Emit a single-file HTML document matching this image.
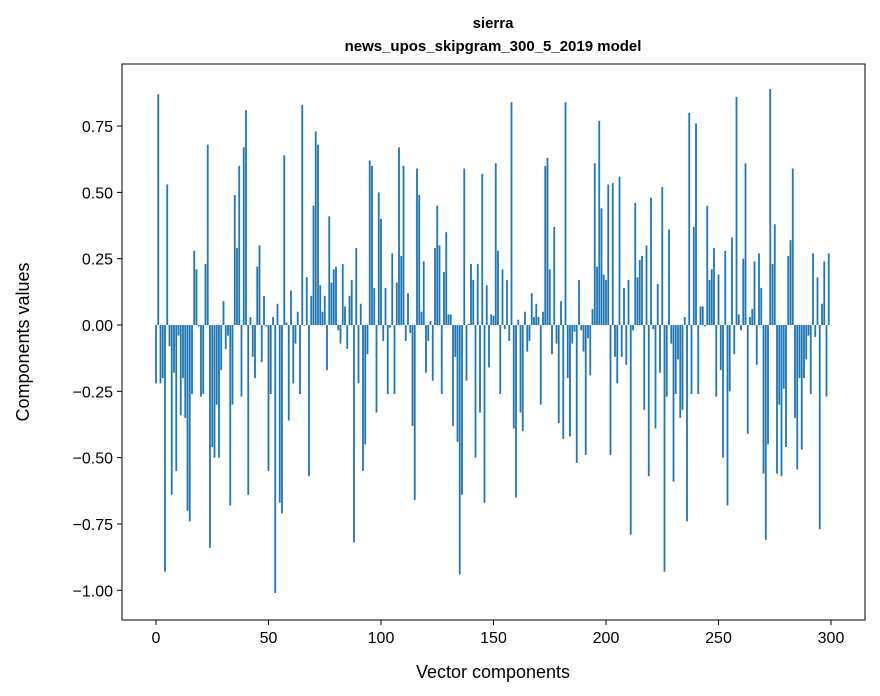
<!DOCTYPE html>
<html><head><meta charset="utf-8"><style>
html,body{margin:0;padding:0;background:#fff;}
svg{display:block;font-family:"Liberation Sans","DejaVu Sans",sans-serif;}
</style></head><body>
<svg id="chart" width="880" height="696" viewBox="0 0 880 696" xmlns="http://www.w3.org/2000/svg">
<rect width="880" height="696" fill="#fff"/>
<text x="493" y="28" text-anchor="middle" font-size="15" font-weight="bold">sierra</text>
<text x="493" y="51" text-anchor="middle" font-size="15" font-weight="bold">news_upos_skipgram_300_5_2019 model</text>
<g id="bars"></g>
<g id="axes"></g>
<rect x="122" y="64" width="743" height="556" fill="none" stroke="#000" stroke-width="1"/>
<text x="493" y="678" text-anchor="middle" font-size="18">Vector components</text>
<text transform="translate(29,342) rotate(-90)" text-anchor="middle" font-size="18">Components values</text>
</svg>
<script>
const values = [
-0.22,0.87,-0.22,-0.20,-0.93,0.53,-0.08,-0.64,-0.18,-0.55,
-0.04,-0.34,-0.20,-0.35,-0.70,-0.74,-0.26,0.28,0.21,-0.005,
-0.27,-0.26,0.23,0.68,-0.84,-0.46,-0.50,-0.30,-0.50,-0.17,
0.09,-0.09,-0.04,-0.68,-0.30,0.49,0.29,0.60,-0.27,0.67,
0.81,-0.64,0.03,-0.12,-0.20,0.22,0.30,-0.14,0.11,-0.005,
-0.55,-0.26,0.03,-1.01,0.08,-0.67,-0.71,0.64,0.01,-0.36,
0.13,-0.22,-0.07,0.05,-0.26,0.83,-0.003,0.18,-0.57,0.11,
0.45,0.73,0.68,0.15,0.05,0.11,-0.17,0.41,0.16,0.21,
0.22,-0.02,-0.07,0.23,0.07,-0.09,0.11,0.17,-0.82,0.29,
-0.22,0.08,-0.55,-0.45,-0.11,0.62,0.60,0.14,-0.33,0.50,
0.40,-0.06,0.14,-0.26,-0.01,0.27,-0.26,0.16,0.67,0.26,
0.60,-0.06,0.12,-0.03,-0.38,-0.66,0.59,0.49,0.05,0.24,
-0.18,-0.06,0.015,-0.21,0.29,0.45,0.30,-0.26,0.20,0.35,
0.04,0.04,-0.38,-0.12,-0.44,-0.94,-0.64,0.59,-0.21,0.005,
0.23,0.17,-0.50,0.23,-0.33,0.57,-0.67,0.15,-0.16,0.04,
0.035,0.61,0.28,-0.26,0.21,-0.015,0.17,-0.06,0.84,-0.39,
-0.65,0.02,-0.33,-0.40,0.05,-0.10,-0.06,0.12,0.03,0.08,
0.03,-0.30,0.05,0.60,0.63,0.21,-0.11,0.37,-0.07,-0.37,
0.09,-0.43,0.84,-0.20,-0.42,-0.07,-0.025,-0.52,0.17,-0.02,
-0.10,-0.49,-0.05,-0.19,0.06,0.61,0.22,0.77,0.44,0.19,
0.17,0.53,-0.49,0.535,-0.12,-0.22,0.56,-0.12,0.14,-0.15,
0.17,-0.79,-0.02,0.46,0.18,0.245,0.26,-0.32,0.30,-0.57,
0.48,-0.015,-0.39,0.155,-0.18,0.52,-0.93,-0.27,0.36,-0.07,
-0.59,-0.26,-0.13,-0.35,-0.32,0.03,-0.74,0.80,-0.26,0.37,
0.76,-0.26,0.07,0.07,-0.005,0.45,0.17,0.21,0.29,-0.27,
0.19,-0.17,-0.50,0.28,-0.68,-0.25,0.33,-0.11,0.86,0.04,
-0.02,0.25,0.61,-0.41,0.03,0.06,0.24,-0.15,0.27,0.14,
-0.56,-0.81,-0.45,0.89,0.23,0.38,-0.56,-0.30,-0.57,-0.24,
-0.46,0.26,0.32,0.59,-0.35,-0.545,-0.20,-0.47,-0.20,-0.13,
-0.04,-0.26,0.27,-0.045,0.18,-0.77,0.08,0.24,-0.27,0.27
];
const xTicks = [0,50,100,150,200,250,300];
const yTicks = [-1.00,-0.75,-0.50,-0.25,0.00,0.25,0.50,0.75];
const yTickLabels = ["\u22121.00","\u22120.75","\u22120.50","\u22120.25","0.00","0.25","0.50","0.75"];

const NS = "http://www.w3.org/2000/svg";
const X0 = 122, X1 = 865, Y0 = 64, Y1 = 620;
const xMin = -15.11, xMax = 315.11, yMin = -1.112, yMax = 0.984;
function xs(v){ return X0 + (v - xMin) / (xMax - xMin) * (X1 - X0); }
function ys(v){ return Y1 - (v - yMin) / (yMax - yMin) * (Y1 - Y0); }

const bars = document.getElementById('bars');
values.forEach((v, i) => {
  const r = document.createElementNS(NS, 'rect');
  const xl = xs(i - 0.4), xr = xs(i + 0.4);
  const yt = ys(Math.max(v, 0)), yb = ys(Math.min(v, 0));
  r.setAttribute('x', xl);
  r.setAttribute('y', yt);
  r.setAttribute('width', xr - xl);
  r.setAttribute('height', Math.max(yb - yt, 0.3));
  r.setAttribute('fill', '#1f77b4');
  
  
  bars.appendChild(r);
});

const axes = document.getElementById('axes');
xTicks.forEach(t => {
  const x = xs(t);
  const l = document.createElementNS(NS, 'line');
  l.setAttribute('x1', x); l.setAttribute('x2', x);
  l.setAttribute('y1', Y1); l.setAttribute('y2', Y1 + 5);
  l.setAttribute('stroke', '#000');
  
  
  axes.appendChild(l);
  const tx = document.createElementNS(NS, 'text');
  tx.setAttribute('x', x); tx.setAttribute('y', Y1 + 23);
  tx.setAttribute('text-anchor', 'middle');
  tx.setAttribute('font-size', '16');
  
  
  tx.textContent = String(t);
  axes.appendChild(tx);
});
yTicks.forEach((t, i) => {
  const y = ys(t);
  const l = document.createElementNS(NS, 'line');
  l.setAttribute('x1', X0 - 5); l.setAttribute('x2', X0);
  l.setAttribute('y1', y); l.setAttribute('y2', y);
  l.setAttribute('stroke', '#000');
  
  
  axes.appendChild(l);
  const tx = document.createElementNS(NS, 'text');
  tx.setAttribute('x', X0 - 9); tx.setAttribute('y', y + 6);
  tx.setAttribute('text-anchor', 'end');
  tx.setAttribute('font-size', '16');
  
  
  tx.textContent = yTickLabels[i];
  axes.appendChild(tx);
});
</script>
</body></html>
